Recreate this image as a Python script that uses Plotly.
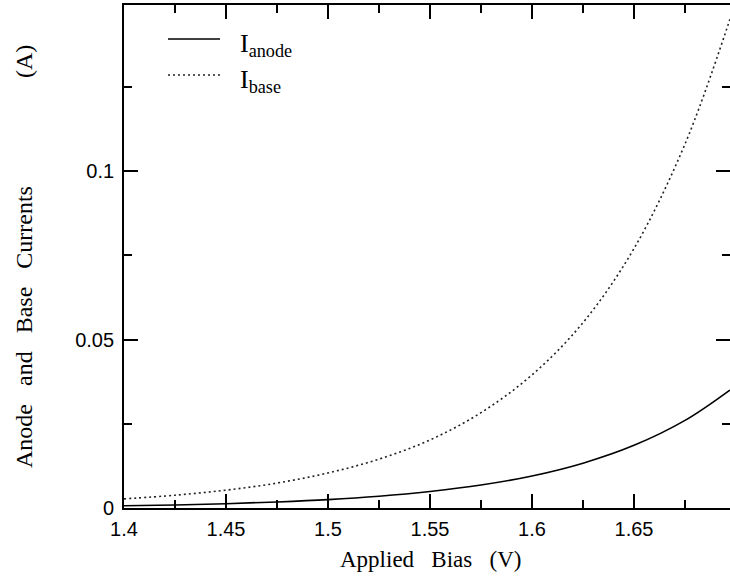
import plotly.graph_objects as go

# Applied bias (V) and measured currents (A)
bias_v = [1.400, 1.425, 1.450, 1.475, 1.500, 1.525, 1.550, 1.575,
          1.600, 1.625, 1.650, 1.675, 1.697]
i_base = [0.0027, 0.0038, 0.0053, 0.0074, 0.0104, 0.0145, 0.0202, 0.0283,
          0.0395, 0.0550, 0.0770, 0.1080, 0.1450]
i_anode = [0.00065, 0.0009, 0.00128, 0.0018, 0.0025, 0.0035, 0.0049, 0.0068,
           0.0095, 0.0133, 0.0186, 0.0260, 0.0350]

x_ticks = [1.4, 1.45, 1.5, 1.55, 1.6, 1.65]
x_tick_text = ["1.4", "1.45", "1.5", "1.55", "1.6", "1.65"]
y_ticks = [0, 0.05, 0.1]
y_tick_text = ["0", "0.05", "0.1"]

W, H = 730, 582
L, R, T, B = 124, 0, 5, 74
pw, ph = W - L - R, H - T - B

def px(xp):
    return (xp - L) / pw

def py(yp):
    return (H - B - yp) / ph

sans = "Liberation Sans, Arial, sans-serif"
serif = "Liberation Serif, Times New Roman, serif"
sp = "&nbsp;"

fig = go.Figure()
fig.add_trace(go.Scatter(x=bias_v, y=i_anode, mode="lines", line_shape="spline",
                         line=dict(color="black", width=1.6), showlegend=False))
# Base current drawn against the right-hand axis (same scale as the left one)
fig.add_trace(go.Scatter(x=bias_v, y=i_base, mode="lines", line_shape="spline",
                         yaxis="y2",
                         line=dict(color="#222", width=1.6, dash="2px,3px"),
                         showlegend=False))

tick_style = dict(ticks="inside", ticklen=14, tickwidth=1.5, tickcolor="black",
                  showgrid=False, zeroline=False,
                  tickfont=dict(family=sans, size=20, color="black"))
minor_style = dict(dtick=0.025, ticks="inside", ticklen=8, tickwidth=1.5,
                   tickcolor="black", showgrid=False)
y_range = [0, 0.05 * ph / 168.5]

fig.update_xaxes(range=[1.4, 1.4 + 0.05 * pw / 102], tickvals=x_ticks,
                 ticktext=x_tick_text, ticklabelstandoff=2,
                 showline=True, linecolor="black", linewidth=1.8, mirror="ticks",
                 minor=dict(tick0=1.4, **minor_style), **tick_style)
fig.update_yaxes(range=y_range, tickvals=y_ticks, ticktext=y_tick_text,
                 ticklabelstandoff=4, showline=True, linecolor="black",
                 linewidth=1.8, mirror=False,
                 minor=dict(tick0=0, **minor_style), **tick_style)

# Right-hand tick marks only (the frame runs past the page edge there)
fig.update_layout(yaxis2=dict(overlaying="y", anchor="x", side="right",
                              range=y_range, tickvals=y_ticks,
                              showticklabels=False, showline=False,
                              minor=dict(tick0=0, **minor_style), **tick_style))

# Axis titles
fig.add_annotation(xref="paper", yref="paper", x=px(430), y=py(559),
                   xanchor="center", yanchor="middle",
                   text=f"Applied{sp*3}Bias{sp*3}(V)", showarrow=False,
                   font=dict(family=serif, size=23, color="black"))
fig.add_annotation(xref="paper", yref="paper", x=px(24), y=py(257),
                   xanchor="center", yanchor="middle",
                   text=f"Anode{sp*3}and{sp*3}Base{sp*3}Currents{sp*18}(A)",
                   textangle=-90, showarrow=False,
                   font=dict(family=serif, size=24, color="black"))

# Legend
fig.add_shape(type="line", xref="paper", yref="paper", x0=px(168), x1=px(220),
              y0=py(39), y1=py(39), line=dict(color="black", width=1.6))
fig.add_shape(type="line", xref="paper", yref="paper", x0=px(168), x1=px(220),
              y0=py(75), y1=py(75), line=dict(color="#222", width=1.6, dash="2px,3px"))
fig.add_annotation(xref="paper", yref="paper", x=px(238), y=py(45),
                   xanchor="left", yanchor="middle",
                   text="I<sub>anode</sub>", showarrow=False,
                   font=dict(family=serif, size=26, color="black"))
fig.add_annotation(xref="paper", yref="paper", x=px(238), y=py(81),
                   xanchor="left", yanchor="middle",
                   text="I<sub>base</sub>", showarrow=False,
                   font=dict(family=serif, size=26, color="black"))

fig.update_layout(width=W, height=H, margin=dict(l=L, r=R, t=T, b=B),
                  plot_bgcolor="white", paper_bgcolor="white")

fig.write_html("out.html")
